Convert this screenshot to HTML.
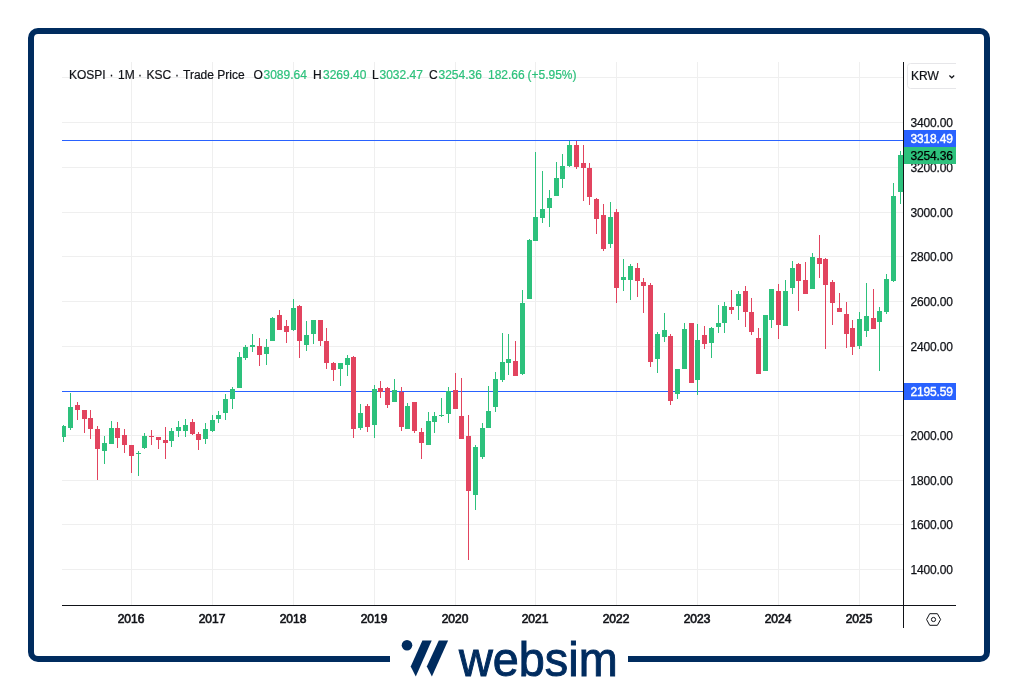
<!DOCTYPE html>
<html lang="en"><head><meta charset="utf-8"><title>KOSPI 1M chart</title>
<style>
html,body{margin:0;padding:0;background:#fff}
body{width:1018px;height:690px;position:relative;overflow:hidden;font-family:"Liberation Sans",Arial,sans-serif;color:#111318}
.frame{position:absolute;left:28px;top:28px;width:962px;height:634px;box-sizing:border-box;border:6px solid #002c5f;border-radius:10px}
.gap{position:absolute;left:390px;top:654px;width:238px;height:10px;background:#fff}
.c{position:absolute;left:0;top:0}
.lg{-webkit-text-stroke:0.2px currentColor;position:absolute;top:68px;height:14px;line-height:14px;font-size:12px;white-space:nowrap}
.lg.v{color:#2dc17c}
.pl{-webkit-text-stroke:0.25px currentColor;position:absolute;left:910.5px;width:45.5px;height:14px;line-height:14px;font-size:12px;letter-spacing:-0.15px;white-space:nowrap;overflow:hidden}
.pl.w{color:#fff;-webkit-text-stroke:0.4px #fff}
.pl.k{color:#000}
.bx{position:absolute;left:904px;width:52px;height:17px}
.yl{position:absolute;top:612px;width:41px;text-align:center;height:14px;line-height:14px;font-size:12px;font-weight:normal;-webkit-text-stroke:0.65px currentColor;white-space:nowrap}
.krw{position:absolute;left:907px;top:63px;width:49px;height:26px;overflow:hidden}
.krw i{position:absolute;left:0;top:0;width:60px;height:24px;border:1px solid #e6e6e9;border-radius:3.5px;display:block}
.krw b{-webkit-text-stroke:0.2px currentColor;position:absolute;left:4px;top:6px;font-weight:normal;font-size:12px;line-height:14px}
.logo{position:absolute;left:0;top:0}
.ws{position:absolute;left:459px;top:630.4px;font-size:49px;line-height:58px;color:#002c5f;transform-origin:0 0;transform:scaleX(0.955);-webkit-text-stroke:1px #002c5f;white-space:nowrap}
</style></head><body>
<div class="frame"></div><div class="gap"></div>
<svg class="c" width="1018" height="690" viewBox="0 0 1018 690" shape-rendering="crispEdges">
<g fill="#efefef"><rect x="62" y="77" width="841" height="1"/><rect x="62" y="122" width="841" height="1"/><rect x="62" y="167" width="841" height="1"/><rect x="62" y="212" width="841" height="1"/><rect x="62" y="256" width="841" height="1"/><rect x="62" y="301" width="841" height="1"/><rect x="62" y="346" width="841" height="1"/><rect x="62" y="435" width="841" height="1"/><rect x="62" y="480" width="841" height="1"/><rect x="62" y="524" width="841" height="1"/><rect x="62" y="569" width="841" height="1"/><rect x="131" y="62" width="1" height="543"/><rect x="212" y="62" width="1" height="543"/><rect x="293" y="62" width="1" height="543"/><rect x="374" y="62" width="1" height="543"/><rect x="455" y="62" width="1" height="543"/><rect x="535" y="62" width="1" height="543"/><rect x="616" y="62" width="1" height="543"/><rect x="697" y="62" width="1" height="543"/><rect x="778" y="62" width="1" height="543"/><rect x="859" y="62" width="1" height="543"/></g>
<g fill="#2962ff"><rect x="62" y="140" width="841" height="1"/><rect x="62" y="391" width="841" height="1"/></g>
<g fill="#2dc17c"><rect x="63" y="425" width="1" height="17"/><rect x="62" y="426" width="4" height="11"/><rect x="70" y="393" width="1" height="37"/><rect x="68" y="407" width="5" height="21"/><rect x="104" y="436" width="1" height="28"/><rect x="102" y="443" width="5" height="8"/><rect x="111" y="421" width="1" height="23"/><rect x="109" y="428" width="5" height="16"/><rect x="138" y="451" width="1" height="25"/><rect x="136" y="453" width="5" height="1"/><rect x="144" y="433" width="1" height="16"/><rect x="142" y="436" width="5" height="12"/><rect x="171" y="428" width="1" height="19"/><rect x="169" y="431" width="5" height="10"/><rect x="178" y="421" width="1" height="16"/><rect x="176" y="427" width="5" height="4"/><rect x="185" y="419" width="1" height="18"/><rect x="183" y="425" width="5" height="6"/><rect x="205" y="423" width="1" height="21"/><rect x="203" y="429" width="5" height="10"/><rect x="212" y="415" width="1" height="17"/><rect x="210" y="420" width="5" height="11"/><rect x="218" y="411" width="1" height="12"/><rect x="216" y="415" width="5" height="4"/><rect x="225" y="394" width="1" height="26"/><rect x="223" y="399" width="5" height="14"/><rect x="232" y="387" width="1" height="22"/><rect x="230" y="389" width="5" height="10"/><rect x="239" y="352" width="1" height="36"/><rect x="237" y="357" width="5" height="31"/><rect x="245" y="345" width="1" height="15"/><rect x="243" y="347" width="5" height="11"/><rect x="252" y="334" width="1" height="18"/><rect x="250" y="345" width="5" height="2"/><rect x="266" y="339" width="1" height="26"/><rect x="264" y="347" width="5" height="7"/><rect x="272" y="317" width="1" height="24"/><rect x="270" y="318" width="5" height="23"/><rect x="293" y="299" width="1" height="32"/><rect x="291" y="308" width="5" height="22"/><rect x="306" y="321" width="1" height="30"/><rect x="304" y="335" width="5" height="10"/><rect x="313" y="320" width="1" height="24"/><rect x="311" y="320" width="5" height="14"/><rect x="340" y="363" width="1" height="23"/><rect x="338" y="363" width="5" height="6"/><rect x="347" y="355" width="1" height="21"/><rect x="345" y="358" width="5" height="7"/><rect x="360" y="404" width="1" height="26"/><rect x="358" y="413" width="5" height="15"/><rect x="374" y="385" width="1" height="53"/><rect x="372" y="389" width="5" height="36"/><rect x="394" y="379" width="1" height="23"/><rect x="392" y="390" width="5" height="12"/><rect x="407" y="403" width="1" height="26"/><rect x="405" y="406" width="5" height="23"/><rect x="428" y="412" width="1" height="33"/><rect x="426" y="421" width="5" height="24"/><rect x="434" y="412" width="1" height="21"/><rect x="432" y="416" width="5" height="6"/><rect x="441" y="398" width="1" height="19"/><rect x="439" y="415" width="5" height="1"/><rect x="448" y="387" width="1" height="36"/><rect x="446" y="391" width="5" height="23"/><rect x="475" y="445" width="1" height="65"/><rect x="473" y="447" width="5" height="48"/><rect x="482" y="423" width="1" height="36"/><rect x="480" y="428" width="5" height="29"/><rect x="488" y="386" width="1" height="42"/><rect x="486" y="411" width="5" height="17"/><rect x="495" y="372" width="1" height="40"/><rect x="493" y="379" width="5" height="28"/><rect x="502" y="333" width="1" height="49"/><rect x="500" y="362" width="5" height="18"/><rect x="508" y="334" width="1" height="41"/><rect x="506" y="359" width="5" height="4"/><rect x="522" y="290" width="1" height="85"/><rect x="520" y="303" width="5" height="71"/><rect x="529" y="239" width="1" height="60"/><rect x="527" y="240" width="5" height="59"/><rect x="535" y="152" width="1" height="89"/><rect x="533" y="217" width="5" height="24"/><rect x="542" y="171" width="1" height="52"/><rect x="540" y="209" width="5" height="9"/><rect x="549" y="190" width="1" height="37"/><rect x="547" y="198" width="5" height="10"/><rect x="556" y="162" width="1" height="34"/><rect x="554" y="178" width="5" height="18"/><rect x="562" y="154" width="1" height="34"/><rect x="560" y="166" width="5" height="13"/><rect x="569" y="141" width="1" height="26"/><rect x="567" y="145" width="5" height="21"/><rect x="610" y="202" width="1" height="46"/><rect x="608" y="217" width="5" height="27"/><rect x="623" y="259" width="1" height="32"/><rect x="621" y="277" width="5" height="3"/><rect x="630" y="264" width="1" height="36"/><rect x="628" y="266" width="5" height="14"/><rect x="657" y="332" width="1" height="41"/><rect x="655" y="334" width="5" height="25"/><rect x="664" y="313" width="1" height="29"/><rect x="662" y="330" width="5" height="7"/><rect x="677" y="369" width="1" height="30"/><rect x="675" y="369" width="5" height="25"/><rect x="684" y="323" width="1" height="46"/><rect x="682" y="329" width="5" height="40"/><rect x="697" y="324" width="1" height="71"/><rect x="695" y="340" width="5" height="40"/><rect x="711" y="327" width="1" height="31"/><rect x="709" y="328" width="5" height="15"/><rect x="718" y="305" width="1" height="28"/><rect x="716" y="323" width="5" height="4"/><rect x="724" y="302" width="1" height="31"/><rect x="722" y="306" width="5" height="17"/><rect x="738" y="291" width="1" height="29"/><rect x="736" y="294" width="5" height="12"/><rect x="765" y="315" width="1" height="56"/><rect x="763" y="315" width="5" height="56"/><rect x="771" y="289" width="1" height="39"/><rect x="769" y="289" width="5" height="31"/><rect x="785" y="280" width="1" height="46"/><rect x="783" y="291" width="5" height="35"/><rect x="792" y="261" width="1" height="33"/><rect x="790" y="268" width="5" height="20"/><rect x="812" y="253" width="1" height="36"/><rect x="810" y="257" width="5" height="32"/><rect x="859" y="312" width="1" height="37"/><rect x="857" y="319" width="5" height="27"/><rect x="866" y="283" width="1" height="54"/><rect x="864" y="316" width="5" height="15"/><rect x="879" y="307" width="1" height="64"/><rect x="877" y="311" width="5" height="11"/><rect x="886" y="274" width="1" height="40"/><rect x="884" y="279" width="5" height="33"/><rect x="893" y="183" width="1" height="99"/><rect x="891" y="196" width="5" height="85"/><rect x="900" y="151" width="1" height="53"/><rect x="898" y="155" width="5" height="37"/></g>
<g fill="#e2445f"><rect x="77" y="402" width="1" height="18"/><rect x="75" y="405" width="5" height="5"/><rect x="84" y="410" width="1" height="23"/><rect x="82" y="410" width="5" height="9"/><rect x="90" y="410" width="1" height="29"/><rect x="88" y="418" width="5" height="11"/><rect x="97" y="426" width="1" height="54"/><rect x="95" y="429" width="5" height="20"/><rect x="117" y="422" width="1" height="26"/><rect x="115" y="428" width="5" height="10"/><rect x="124" y="429" width="1" height="24"/><rect x="122" y="435" width="5" height="10"/><rect x="131" y="445" width="1" height="28"/><rect x="129" y="445" width="5" height="11"/><rect x="151" y="430" width="1" height="15"/><rect x="149" y="436" width="5" height="1"/><rect x="158" y="437" width="1" height="12"/><rect x="156" y="437" width="5" height="3"/><rect x="165" y="427" width="1" height="32"/><rect x="163" y="440" width="5" height="3"/><rect x="192" y="419" width="1" height="16"/><rect x="190" y="422" width="5" height="12"/><rect x="198" y="432" width="1" height="18"/><rect x="196" y="434" width="5" height="6"/><rect x="259" y="338" width="1" height="28"/><rect x="257" y="346" width="5" height="9"/><rect x="279" y="310" width="1" height="20"/><rect x="277" y="315" width="5" height="15"/><rect x="286" y="320" width="1" height="23"/><rect x="284" y="326" width="5" height="6"/><rect x="299" y="305" width="1" height="53"/><rect x="297" y="306" width="5" height="35"/><rect x="320" y="320" width="1" height="26"/><rect x="318" y="320" width="5" height="21"/><rect x="326" y="328" width="1" height="41"/><rect x="324" y="341" width="5" height="22"/><rect x="333" y="362" width="1" height="19"/><rect x="331" y="363" width="5" height="7"/><rect x="353" y="356" width="1" height="82"/><rect x="351" y="357" width="5" height="72"/><rect x="367" y="404" width="1" height="28"/><rect x="365" y="406" width="5" height="21"/><rect x="380" y="381" width="1" height="17"/><rect x="378" y="388" width="5" height="4"/><rect x="387" y="387" width="1" height="21"/><rect x="385" y="388" width="5" height="17"/><rect x="401" y="387" width="1" height="44"/><rect x="399" y="392" width="5" height="35"/><rect x="414" y="402" width="1" height="31"/><rect x="412" y="402" width="5" height="29"/><rect x="421" y="428" width="1" height="31"/><rect x="419" y="432" width="5" height="11"/><rect x="455" y="373" width="1" height="36"/><rect x="453" y="390" width="5" height="19"/><rect x="461" y="378" width="1" height="61"/><rect x="459" y="416" width="5" height="23"/><rect x="468" y="415" width="1" height="145"/><rect x="466" y="436" width="5" height="55"/><rect x="515" y="341" width="1" height="35"/><rect x="513" y="361" width="5" height="15"/><rect x="576" y="141" width="1" height="28"/><rect x="574" y="145" width="5" height="22"/><rect x="583" y="145" width="1" height="56"/><rect x="581" y="163" width="5" height="5"/><rect x="589" y="163" width="1" height="42"/><rect x="587" y="168" width="5" height="29"/><rect x="596" y="198" width="1" height="36"/><rect x="594" y="199" width="5" height="20"/><rect x="603" y="204" width="1" height="47"/><rect x="601" y="215" width="5" height="34"/><rect x="616" y="209" width="1" height="94"/><rect x="614" y="212" width="5" height="76"/><rect x="637" y="263" width="1" height="34"/><rect x="635" y="268" width="5" height="13"/><rect x="643" y="278" width="1" height="35"/><rect x="641" y="282" width="5" height="4"/><rect x="650" y="283" width="1" height="84"/><rect x="648" y="285" width="5" height="77"/><rect x="670" y="334" width="1" height="71"/><rect x="668" y="336" width="5" height="65"/><rect x="691" y="323" width="1" height="60"/><rect x="689" y="323" width="5" height="60"/><rect x="704" y="326" width="1" height="23"/><rect x="702" y="335" width="5" height="9"/><rect x="731" y="290" width="1" height="24"/><rect x="729" y="307" width="5" height="3"/><rect x="745" y="286" width="1" height="41"/><rect x="743" y="291" width="5" height="21"/><rect x="751" y="298" width="1" height="37"/><rect x="749" y="312" width="5" height="20"/><rect x="758" y="328" width="1" height="46"/><rect x="756" y="338" width="5" height="36"/><rect x="778" y="284" width="1" height="55"/><rect x="776" y="291" width="5" height="34"/><rect x="798" y="263" width="1" height="48"/><rect x="796" y="264" width="5" height="17"/><rect x="805" y="262" width="1" height="32"/><rect x="803" y="280" width="5" height="14"/><rect x="819" y="235" width="1" height="43"/><rect x="817" y="258" width="5" height="6"/><rect x="825" y="258" width="1" height="91"/><rect x="823" y="259" width="5" height="26"/><rect x="832" y="280" width="1" height="45"/><rect x="830" y="282" width="5" height="21"/><rect x="839" y="293" width="1" height="19"/><rect x="837" y="308" width="5" height="4"/><rect x="846" y="302" width="1" height="46"/><rect x="844" y="314" width="5" height="20"/><rect x="852" y="320" width="1" height="35"/><rect x="850" y="328" width="5" height="19"/><rect x="873" y="289" width="1" height="40"/><rect x="871" y="318" width="5" height="11"/></g>
<g fill="#111318"><rect x="903" y="62" width="1" height="566"/><rect x="62" y="605" width="894" height="1"/></g>
</svg>
<div class="lg" style="left:69px">KOSPI</div><div class="lg" style="left:109.5px">·</div><div class="lg" style="left:118px">1M</div><div class="lg" style="left:138px">·</div><div class="lg" style="left:146.5px">KSC</div><div class="lg" style="left:175px">·</div><div class="lg" style="left:183px">Trade Price</div>
<div class="lg" style="left:253.5px">O</div><div class="lg v" style="left:263.5px">3089.64</div>
<div class="lg" style="left:313px">H</div><div class="lg v" style="left:323px">3269.40</div>
<div class="lg" style="left:372px">L</div><div class="lg v" style="left:379.5px">3032.47</div>
<div class="lg" style="left:429px">C</div><div class="lg v" style="left:438.5px">3254.36</div>
<div class="lg v" style="left:488px">182.66</div><div class="lg v" style="left:527.5px">(+5.95%)</div>
<div class="pl" style="top:116px">3400.00</div><div class="pl" style="top:161px">3200.00</div><div class="pl" style="top:206px">3000.00</div><div class="pl" style="top:250px">2800.00</div><div class="pl" style="top:295px">2600.00</div><div class="pl" style="top:340px">2400.00</div><div class="pl" style="top:429px">2000.00</div><div class="pl" style="top:474px">1800.00</div><div class="pl" style="top:518px">1600.00</div><div class="pl" style="top:563px">1400.00</div><div class="bx" style="top:130px;background:#2962ff"></div><div class="bx" style="top:147px;background:#2dc17c"></div><div class="bx" style="top:383px;background:#2962ff"></div><div class="pl w" style="top:132px">3318.49</div><div class="pl k" style="top:149px">3254.36</div><div class="pl w" style="top:385px">2195.59</div>
<div class="yl" style="left:110.5px">2016</div><div class="yl" style="left:191.5px">2017</div><div class="yl" style="left:272.5px">2018</div><div class="yl" style="left:353.5px">2019</div><div class="yl" style="left:434.5px">2020</div><div class="yl" style="left:514.5px">2021</div><div class="yl" style="left:595.5px">2022</div><div class="yl" style="left:676.5px">2023</div><div class="yl" style="left:757.5px">2024</div><div class="yl" style="left:838.5px">2025</div>
<div class="krw"><i></i><b>KRW</b></div>
<svg class="logo" width="1018" height="690" viewBox="0 0 1018 690">
<path d="M949.4 75.5 L951.8 77.8 L954.2 75.5" fill="none" stroke="#111318" stroke-width="1.2"/>
<path d="M926.6 619.5 L929.7 613.7 L937.4 613.7 L940.6 619.5 L937.4 625.3 L929.7 625.3 Z" fill="none" stroke="#111318" stroke-width="1"/>
<circle cx="933.5" cy="619.5" r="2.1" fill="none" stroke="#111318" stroke-width="1"/>
<g fill="#002c5f"><circle cx="407" cy="645.3" r="5.3"/>
<path d="M422.4 640.4 L431.7 640.4 L415.8 676.5 L410.7 666.5 Z"/>
<path d="M438.8 640.4 L448.1 640.4 L431.9 676.5 L426.8 666.5 Z"/></g>
</svg>
<div class="ws">websim</div>
</body></html>
